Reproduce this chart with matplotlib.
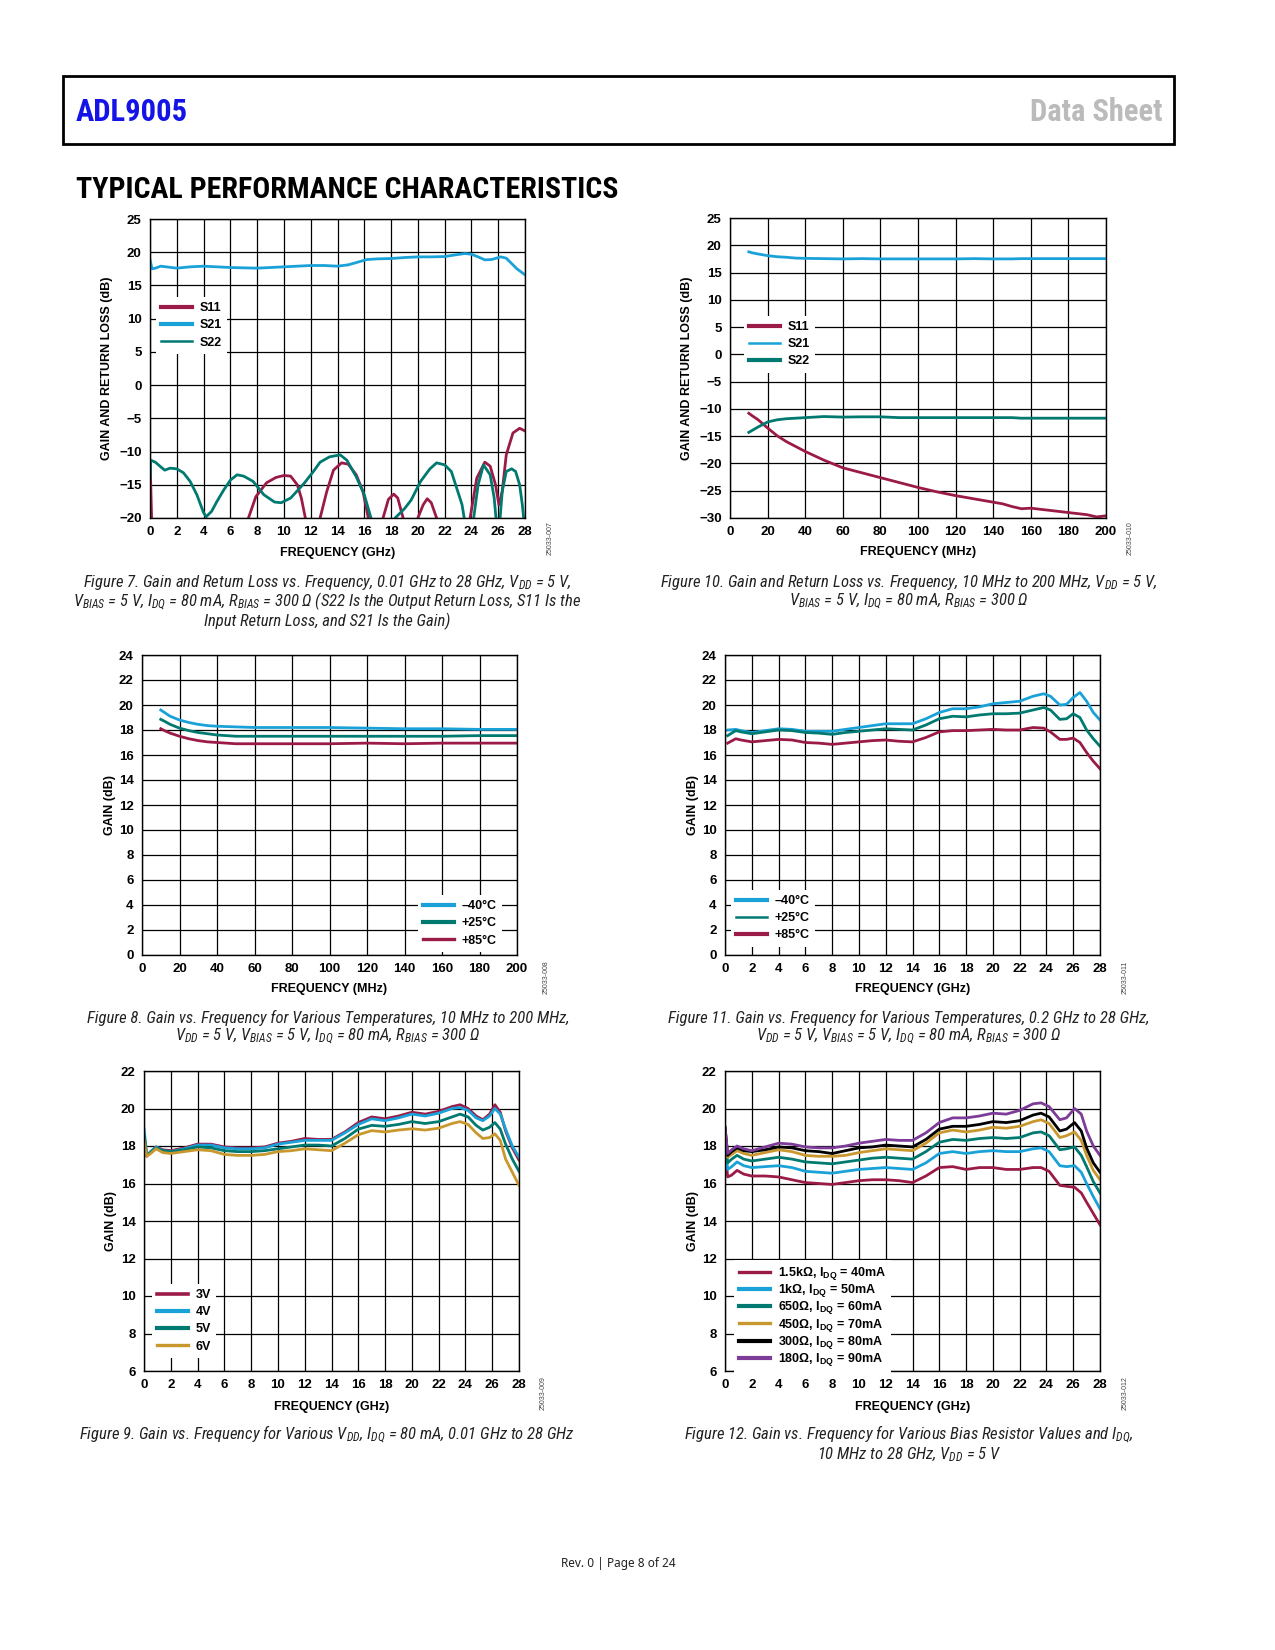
import matplotlib
matplotlib.use('Agg')
import matplotlib.pyplot as plt
from matplotlib.patches import Rectangle
from matplotlib import font_manager as fm

# ---------------- font selection (narrow face if one is installed) ----------------
_names = {f.name for f in fm.fontManager.ttflist}
NARROW = None
for cand in ['Liberation Sans Narrow', 'Roboto Condensed', 'Open Sans Condensed', 'Noto Sans Condensed',
             'DejaVu Sans Condensed', 'Arial Narrow']:
    if cand in _names:
        NARROW = cand
        break
if NARROW is None:
    for n in sorted(_names):
        if ('Narrow' in n or 'Condensed' in n) and 'Mono' not in n:
            NARROW = n
            break
HAVE_NARROW = NARROW is not None
if not HAVE_NARROW:
    NARROW = 'Liberation Sans'

plt.rcParams['font.family'] = ['Liberation Sans', 'DejaVu Sans']
plt.rcParams['mathtext.fontset'] = 'custom'
plt.rcParams['mathtext.it'] = NARROW + ':style=italic:weight=normal'
plt.rcParams['mathtext.rm'] = NARROW + ':style=italic:weight=normal'
plt.rcParams['mathtext.bf'] = 'Liberation Sans:weight=bold'
plt.rcParams['axes.unicode_minus'] = True

CAP_SIZE = 12 if HAVE_NARROW else 9.5
HEAD_SIZE = 22 if HAVE_NARROW else 17.5
TITLE_SIZE = 21.5 if HAVE_NARROW else 18

# ---------------- colours ----------------
MAROON = '#9B1B48'
BLUE = '#1AA2D8'
TEAL = '#007A70'
GOLD = '#C8982E'
PURPLE = '#7D3C98'
BLACK = '#000000'

# ---------------- Figure 7 data ----------------
f7_s21_x = [0.01, 0.15, 0.4, 0.8, 1.2, 2.0, 3.0, 4.0, 5.0, 6.0, 7.0, 8.0, 9.0, 10.0, 11.0, 12.0, 13.0, 14.0,
            14.8, 15.5, 16.2, 17.0, 18.0, 19.0, 20.0, 21.0, 22.0, 22.8, 23.5, 24.0, 24.5, 25.0, 25.5, 26.2,
            26.6, 27.0, 27.4, 28.0]
f7_s21_y = [18.8, 17.5, 17.6, 17.9, 17.8, 17.6, 17.8, 17.9, 17.8, 17.7, 17.65, 17.6, 17.7, 17.8, 17.9, 18.0,
            18.0, 17.9, 18.1, 18.5, 18.9, 19.0, 19.05, 19.2, 19.3, 19.3, 19.35, 19.6, 19.8, 19.7, 19.3, 18.85,
            18.9, 19.3, 19.1, 18.3, 17.5, 16.6]
f7_s22_x = [0.01, 0.05, 0.4, 0.8, 1.1, 1.5, 2.0, 2.5, 3.0, 3.5, 4.0, 4.2, 4.6, 5.0, 5.5, 6.0, 6.5, 7.0, 7.7,
            8.5, 9.3, 9.8, 10.5, 11.5, 12.2, 12.7, 13.4, 14.2, 14.7, 15.4, 16.0, 16.5, 17.0, 17.8, 18.3, 19.0,
            19.5, 20.2, 20.9, 21.4, 22.0, 22.5, 22.9, 23.3, 23.5, 23.8, 24.1, 24.5, 24.9, 25.4, 25.7, 25.9,
            26.1, 26.3, 26.6, 27.0, 27.3, 27.6, 27.8, 27.95]
f7_s22_y = [-14.0, -11.3, -11.6, -12.3, -12.8, -12.5, -12.6, -13.2, -14.5, -16.5, -19.2, -19.8, -19.0, -17.5,
            -15.8, -14.3, -13.5, -13.7, -14.5, -16.5, -17.6, -17.7, -17.0, -14.8, -13.0, -11.6, -10.8, -10.5,
            -11.3, -13.8, -16.5, -20.0, -23.0, -23.0, -20.0, -18.6, -17.3, -14.5, -12.6, -11.7, -12.0, -13.0,
            -15.5, -18.0, -20.5, -23.0, -21.0, -15.0, -12.0, -13.5, -17.0, -21.5, -21.0, -16.0, -13.0, -12.6,
            -13.0, -15.0, -18.0, -21.0]
f7_s11_x = [0.01, 0.12, 0.3, 3.0, 6.5, 7.35, 7.9, 8.7, 9.4, 10.0, 10.5, 11.0, 11.3, 11.6, 12.0, 12.5, 12.7,
            13.2, 13.7, 14.3, 14.8, 15.4, 15.9, 16.3, 16.8, 17.1, 17.4, 17.8, 18.2, 18.5, 18.9, 19.3, 19.7,
            20.0, 20.4, 20.7, 21.0, 21.4, 22.0, 23.0, 23.6, 23.9, 24.4, 25.0, 25.4, 25.8, 26.05, 26.3, 26.6,
            27.1, 27.6, 28.0]
f7_s11_y = [-11.5, -20.0, -26.0, -30.0, -25.0, -20.0, -16.8, -14.7, -13.9, -13.6, -13.7, -15.0, -17.0, -20.0,
            -25.0, -22.0, -20.0, -16.0, -12.8, -11.7, -11.9, -13.5, -16.0, -20.0, -25.0, -24.0, -20.0, -17.2,
            -16.4, -17.0, -20.0, -24.0, -23.0, -20.0, -18.0, -17.1, -17.7, -20.0, -25.0, -26.0, -22.0, -20.0,
            -14.0, -11.6, -12.2, -15.0, -18.0, -16.0, -10.5, -7.2, -6.5, -6.9]

# ---------------- Figure 10 data ----------------
f10_x = [10, 12, 15, 20, 25, 30, 35, 40, 50, 60, 70, 80, 90, 100, 110, 120, 130, 140, 145, 150, 155, 160,
         170, 180, 190, 195, 200]
f10_s21 = [18.8, 18.6, 18.4, 18.1, 17.9, 17.8, 17.65, 17.6, 17.55, 17.5, 17.55, 17.5, 17.5, 17.5, 17.5, 17.5,
           17.55, 17.5, 17.5, 17.5, 17.55, 17.55, 17.55, 17.55, 17.55, 17.55, 17.55]
f10_s22 = [-14.3, -13.9, -13.3, -12.4, -12.0, -11.8, -11.7, -11.6, -11.4, -11.5, -11.45, -11.45, -11.6, -11.6,
           -11.6, -11.6, -11.6, -11.6, -11.6, -11.6, -11.7, -11.7, -11.7, -11.7, -11.7, -11.7, -11.7]
f10_s11 = [-10.8, -11.3, -12.0, -13.5, -14.9, -16.0, -16.9, -17.8, -19.4, -20.8, -21.7, -22.6, -23.5, -24.4,
           -25.2, -25.9, -26.5, -27.1, -27.4, -27.9, -28.3, -28.2, -28.6, -29.0, -29.4, -29.8, -29.6]

# ---------------- Figure 8 data ----------------
f8_x = [10, 12, 15, 20, 25, 30, 35, 40, 50, 60, 80, 100, 120, 140, 160, 180, 200]
f8_m40 = [19.6, 19.4, 19.1, 18.8, 18.6, 18.45, 18.35, 18.3, 18.25, 18.2, 18.2, 18.2, 18.15, 18.1, 18.1, 18.05, 18.05]
f8_p25 = [18.85, 18.7, 18.45, 18.15, 17.95, 17.8, 17.7, 17.6, 17.5, 17.5, 17.5, 17.5, 17.5, 17.5, 17.5, 17.55, 17.55]
f8_p85 = [18.1, 17.95, 17.75, 17.5, 17.3, 17.15, 17.05, 17.0, 16.9, 16.9, 16.9, 16.9, 16.95, 16.9, 16.95, 16.95, 16.95]

# ---------------- Figure 11 data ----------------
f11_x = [0.2, 0.8, 1.2, 2, 3, 4, 5, 6, 7, 8, 9, 10, 11, 12, 13, 14, 15, 16, 17, 18, 19, 20, 21, 22, 23, 23.8,
         24.3, 25, 25.5, 26, 26.5, 27, 27.5, 28]
f11_m40 = [18.0, 18.05, 17.95, 17.8, 17.95, 18.1, 18.05, 17.9, 17.9, 17.9, 18.05, 18.2, 18.35, 18.5, 18.5, 18.5,
           18.9, 19.4, 19.7, 19.7, 19.85, 20.1, 20.2, 20.3, 20.7, 20.9, 20.7, 20.0, 20.05, 20.6, 21.0, 20.3, 19.4, 18.8]
f11_p25 = [17.55, 17.95, 17.85, 17.7, 17.85, 18.0, 17.95, 17.8, 17.75, 17.65, 17.8, 17.9, 18.0, 18.1, 18.05, 18.0,
           18.4, 18.9, 19.1, 19.05, 19.2, 19.3, 19.3, 19.35, 19.6, 19.8, 19.6, 18.85, 18.9, 19.3, 19.0, 18.0, 17.3, 16.7]
f11_p85 = [16.95, 17.3, 17.2, 17.05, 17.15, 17.25, 17.2, 17.0, 16.95, 16.85, 16.95, 17.05, 17.15, 17.2, 17.1, 17.05,
           17.4, 17.85, 17.95, 17.95, 18.0, 18.05, 18.0, 18.0, 18.2, 18.15, 17.85, 17.25, 17.25, 17.35, 17.0, 16.2,
           15.5, 14.9]

# ---------------- Figure 9 data ----------------
f9_x = [0.01, 0.2, 0.5, 0.9, 1.4, 2, 3, 4, 5, 6, 7, 8, 9, 10, 11, 12, 13, 14, 15, 16, 17, 18, 19, 20, 21, 22,
        23, 23.6, 24.2, 24.8, 25.3, 25.8, 26.2, 26.6, 27, 27.5, 28]
f9_3v = [18.5, 17.45, 17.7, 17.95, 17.8, 17.75, 17.9, 18.1, 18.1, 17.95, 17.9, 17.9, 17.95, 18.15, 18.25, 18.4,
         18.35, 18.35, 18.75, 19.25, 19.55, 19.45, 19.6, 19.8, 19.7, 19.85, 20.1, 20.2, 20.0, 19.6, 19.4, 19.7,
         20.2, 19.8, 18.8, 17.9, 17.25]
f9_4v = [18.9, 17.5, 17.7, 17.95, 17.75, 17.7, 17.85, 18.05, 18.05, 17.9, 17.85, 17.85, 17.9, 18.1, 18.2, 18.3,
         18.3, 18.3, 18.7, 19.15, 19.45, 19.35, 19.5, 19.7, 19.6, 19.75, 20.0, 20.05, 19.9, 19.5, 19.35, 19.6,
         20.0, 19.7, 18.9, 18.0, 17.4]
f9_5v = [18.6, 17.5, 17.65, 17.9, 17.75, 17.7, 17.8, 17.95, 17.9, 17.75, 17.7, 17.7, 17.75, 17.85, 17.95, 18.05,
         18.05, 18.0, 18.4, 18.9, 19.1, 19.05, 19.15, 19.3, 19.2, 19.3, 19.55, 19.7, 19.55, 19.1, 18.85, 19.0,
         19.25, 18.9, 18.1, 17.3, 16.65]
f9_6v = [18.3, 17.45, 17.6, 17.85, 17.65, 17.6, 17.7, 17.8, 17.75, 17.55, 17.5, 17.5, 17.55, 17.7, 17.75, 17.85,
         17.8, 17.75, 18.15, 18.6, 18.82, 18.75, 18.85, 18.92, 18.85, 18.95, 19.2, 19.3, 19.15, 18.7, 18.4, 18.45,
         18.65, 18.3, 17.3, 16.6, 15.9]

# ---------------- Figure 12 data ----------------
f12_x = [0.01, 0.2, 0.5, 0.9, 1.4, 2, 3, 4, 5, 6, 7, 8, 9, 10, 11, 12, 13, 14, 15, 16, 17, 18, 19, 20, 21, 22,
         23, 23.6, 24.2, 25, 25.5, 26.1, 26.6, 27, 27.5, 28]
f12_180 = [18.9, 17.6, 17.8, 18.0, 17.85, 17.75, 17.95, 18.15, 18.1, 17.95, 17.9, 17.9, 18.0, 18.15, 18.25, 18.35,
           18.3, 18.3, 18.7, 19.25, 19.5, 19.5, 19.6, 19.75, 19.7, 19.9, 20.25, 20.3, 20.1, 19.4, 19.5, 20.0, 19.7,
           18.8, 18.0, 17.5]
f12_300 = [19.0, 17.5, 17.7, 17.9, 17.75, 17.7, 17.8, 17.95, 17.9, 17.75, 17.7, 17.6, 17.75, 17.9, 17.95, 18.05,
           18.0, 17.95, 18.35, 18.9, 19.05, 19.05, 19.15, 19.3, 19.25, 19.35, 19.65, 19.75, 19.55, 18.8, 18.9, 19.25,
           18.8, 17.9, 17.1, 16.6]
f12_450 = [18.8, 17.4, 17.55, 17.75, 17.6, 17.5, 17.65, 17.8, 17.7, 17.5, 17.45, 17.45, 17.5, 17.65, 17.75, 17.85,
           17.8, 17.75, 18.15, 18.7, 18.85, 18.75, 18.85, 19.0, 18.95, 19.05, 19.3, 19.4, 19.2, 18.45, 18.55, 18.75,
           18.3, 17.5, 16.7, 16.2]
f12_650 = [18.5, 17.1, 17.3, 17.5, 17.3, 17.2, 17.3, 17.4, 17.3, 17.15, 17.1, 17.05, 17.15, 17.25, 17.35, 17.4,
           17.35, 17.3, 17.7, 18.2, 18.35, 18.3, 18.4, 18.45, 18.4, 18.45, 18.7, 18.75, 18.55, 17.8, 17.85, 17.95,
           17.5, 16.9, 16.1, 15.5]
f12_1k = [18.2, 16.75, 16.9, 17.15, 16.95, 16.85, 16.9, 16.95, 16.85, 16.65, 16.6, 16.55, 16.65, 16.75, 16.8, 16.85,
          16.8, 16.75, 17.1, 17.6, 17.7, 17.6, 17.7, 17.75, 17.7, 17.7, 17.85, 17.9, 17.7, 16.95, 16.9, 16.95, 16.6,
          16.0, 15.3, 14.65]
f12_1k5 = [17.8, 16.35, 16.45, 16.7, 16.5, 16.4, 16.4, 16.35, 16.2, 16.05, 16.0, 15.95, 16.05, 16.15, 16.2, 16.2,
           16.15, 16.05, 16.4, 16.85, 16.9, 16.75, 16.85, 16.85, 16.75, 16.75, 16.85, 16.85, 16.65, 15.9, 15.85, 15.8,
           15.5, 15.0, 14.4, 13.8]

# ---------------- tick labels ----------------
ghz_ticks = list(range(0, 29, 2))
mhz_ticks = list(range(0, 201, 20))

W, H = 1275, 1650
fig = plt.figure(figsize=(W / 100, H / 100), dpi=100)

LW = 2.0
THICK, THIN = 3.0, 1.8


def make_ax(l, t, r, b):
    return fig.add_axes([l / W, 1 - b / H, (r - l) / W, (b - t) / H])


def style(ax, xlim, xticks, ylim, yticks, xlabel, ylabel, ylab_px, xlab_px):
    ax.set_xlim(*xlim)
    ax.set_ylim(*ylim)
    ax.set_xticks(xticks)
    ax.set_yticks(yticks)
    for lbl in ax.get_xticklabels() + ax.get_yticklabels():
        lbl.set_fontweight('bold')
    ax.set_axisbelow(True)
    ax.grid(True, color='black', lw=0.9)
    ax.tick_params(length=0, pad=6, labelsize=9.5)
    for s in ax.spines.values():
        s.set_color('black')
        s.set_linewidth(1.0)
    ax.set_xlabel(xlabel, fontsize=9, fontweight='bold', va='center')
    ax.set_ylabel(ylabel, fontsize=9, fontweight='bold', va='center')
    bb = ax.get_position()
    axw = bb.width * W
    axh = bb.height * H
    ax.yaxis.set_label_coords(ylab_px / axw, 0.5)
    ax.xaxis.set_label_coords(0.5, xlab_px / axh)


def legend(ax, handles, left_px, top_px, widths, spacing=0.42):
    leg = ax.legend(handles=handles, loc='upper left',
                    bbox_to_anchor=(left_px / W, 1 - top_px / H), bbox_transform=fig.transFigure,
                    frameon=True, fancybox=False, framealpha=1, facecolor='white', edgecolor='none',
                    borderpad=0.4, borderaxespad=0, handlelength=2.5, handletextpad=0.6,
                    labelspacing=spacing, prop={'size': 9, 'weight': 'bold'})
    for ln, w in zip(leg.get_lines(), widths):
        ln.set_linewidth(w)
    return leg


# ---------------- Figure 7 ----------------
ax1 = make_ax(150, 219, 525, 518)
h11, = ax1.plot(f7_s11_x, f7_s11_y, color=MAROON, lw=LW, label='S11')
h21, = ax1.plot(f7_s21_x, f7_s21_y, color=BLUE, lw=LW, label='S21')
h22, = ax1.plot(f7_s22_x, f7_s22_y, color=TEAL, lw=LW, label='S22')
style(ax1, (0, 28), ghz_ticks, (-20, 25), list(range(-20, 26, 5)),
      'FREQUENCY (GHz)', 'GAIN AND RETURN LOSS (dB)', -43, -35)
legend(ax1, [h11, h21, h22], 156, 297, [THICK, THICK, THIN])

# ---------------- Figure 10 ----------------
ax2 = make_ax(730, 218, 1106, 518)
g11, = ax2.plot(f10_x, f10_s11, color=MAROON, lw=LW, label='S11')
g21, = ax2.plot(f10_x, f10_s21, color=BLUE, lw=LW, label='S21')
g22, = ax2.plot(f10_x, f10_s22, color=TEAL, lw=LW, label='S22')
style(ax2, (0, 200), mhz_ticks, (-30, 25), list(range(-30, 26, 5)),
      'FREQUENCY (MHz)', 'GAIN AND RETURN LOSS (dB)', -43, -34)
legend(ax2, [g11, g21, g22], 744, 316, [THICK, THIN, THICK])

# ---------------- Figure 8 ----------------
ax3 = make_ax(142, 655, 517, 955)
t1, = ax3.plot(f8_x, f8_m40, color=BLUE, lw=LW, label='–40°C')
t2, = ax3.plot(f8_x, f8_p25, color=TEAL, lw=LW, label='+25°C')
t3, = ax3.plot(f8_x, f8_p85, color=MAROON, lw=LW, label='+85°C')
style(ax3, (0, 200), mhz_ticks, (0, 24), list(range(0, 25, 2)),
      'FREQUENCY (MHz)', 'GAIN (dB)', -32, -34)
legend(ax3, [t1, t2, t3], 418, 895, [THICK, THICK, 2.4])

# ---------------- Figure 11 ----------------
ax4 = make_ax(725, 655, 1100, 955)
u1, = ax4.plot(f11_x, f11_m40, color=BLUE, lw=LW, label='–40°C')
u2, = ax4.plot(f11_x, f11_p25, color=TEAL, lw=LW, label='+25°C')
u3, = ax4.plot(f11_x, f11_p85, color=MAROON, lw=LW, label='+85°C')
style(ax4, (0, 28), ghz_ticks, (0, 24), list(range(0, 25, 2)),
      'FREQUENCY (GHz)', 'GAIN (dB)', -32, -34)
legend(ax4, [u1, u2, u3], 731, 890, [THICK, THIN, THICK])

# ---------------- Figure 9 ----------------
ax5 = make_ax(144, 1071, 519, 1371)
v1, = ax5.plot(f9_x, f9_3v, color=MAROON, lw=LW, label='3V')
v2, = ax5.plot(f9_x, f9_4v, color=BLUE, lw=LW, label='4V')
v3, = ax5.plot(f9_x, f9_5v, color=TEAL, lw=LW, label='5V')
v4, = ax5.plot(f9_x, f9_6v, color=GOLD, lw=LW, label='6V')
style(ax5, (0, 28), ghz_ticks, (6, 22), list(range(6, 23, 2)),
      'FREQUENCY (GHz)', 'GAIN (dB)', -33, -36)
legend(ax5, [v1, v2, v3, v4], 152, 1284, [2.6, THICK, THICK, 2.4])

# ---------------- Figure 12 ----------------
ax6 = make_ax(725, 1071, 1100, 1371)
w1, = ax6.plot(f12_x, f12_1k5, color=MAROON, lw=LW, label='1.5kΩ, I$_{\\mathbf{DQ}}$ = 40mA')
w2, = ax6.plot(f12_x, f12_1k, color=BLUE, lw=LW, label='1kΩ, I$_{\\mathbf{DQ}}$ = 50mA')
w3, = ax6.plot(f12_x, f12_650, color=TEAL, lw=LW, label='650Ω, I$_{\\mathbf{DQ}}$ = 60mA')
w4, = ax6.plot(f12_x, f12_450, color=GOLD, lw=LW, label='450Ω, I$_{\\mathbf{DQ}}$ = 70mA')
w5, = ax6.plot(f12_x, f12_300, color=BLACK, lw=LW, label='300Ω, I$_{\\mathbf{DQ}}$ = 80mA')
w6, = ax6.plot(f12_x, f12_180, color=PURPLE, lw=LW, label='180Ω, I$_{\\mathbf{DQ}}$ = 90mA')
style(ax6, (0, 28), ghz_ticks, (6, 22), list(range(6, 23, 2)),
      'FREQUENCY (GHz)', 'GAIN (dB)', -32, -36)
legend(ax6, [w1, w2, w3, w4, w5, w6], 734, 1260, [2.4, THICK, THICK, 2.4, THICK, THICK], spacing=0.02)

# ---------------- figure ids ----------------
for txt, x, y in [('25033-007', 550, 538), ('25033-010', 1130, 538), ('25033-008', 546, 977),
                  ('25033-011', 1125, 977), ('25033-009', 543, 1393), ('25033-012', 1125, 1393)]:
    fig.text(x / W, 1 - y / H, txt, rotation=90, fontsize=5, color='#444444', fontweight='normal',
             ha='center', va='center')

# ---------------- header ----------------
fig.patches.append(Rectangle((63 / W, 1 - 144 / H), (1174 - 63) / W, (144 - 76) / H,
                             transform=fig.transFigure, fill=False, lw=2.0, ec='black'))
fig.text(76 / W, 1 - 112 / H, 'ADL9005', family=[NARROW, 'DejaVu Sans'], fontsize=HEAD_SIZE,
         fontweight='bold', color='#1414E6', ha='left', va='center')
fig.text(1162 / W, 1 - 112 / H, 'Data Sheet', family=[NARROW, 'DejaVu Sans'], fontsize=HEAD_SIZE,
         fontweight='bold', color='#BBBBBB', ha='right', va='center')
fig.text(76 / W, 1 - 190 / H, 'TYPICAL PERFORMANCE CHARACTERISTICS', family=[NARROW, 'DejaVu Sans'],
         fontsize=TITLE_SIZE, fontweight='bold', color='black', ha='left', va='center')

# ---------------- captions ----------------
CAP = dict(family=[NARROW, 'DejaVu Sans'], fontsize=CAP_SIZE, fontweight='normal', style='italic',
           ha='center', va='center', color='#222222')
captions = [
    (327, 582, 'Figure 7. Gain and Return Loss vs. Frequency, 0.01 GHz to 28 GHz, V$_{DD}$ = 5 V,'),
    (327, 602, 'V$_{BIAS}$ = 5 V, I$_{DQ}$ = 80 mA, R$_{BIAS}$ = 300 Ω (S22 Is the Output Return Loss, S11 Is the'),
    (327, 621, 'Input Return Loss, and S21 Is the Gain)'),
    (909, 582, 'Figure 10. Gain and Return Loss vs. Frequency, 10 MHz to 200 MHz, V$_{DD}$ = 5 V,'),
    (909, 602, 'V$_{BIAS}$ = 5 V, I$_{DQ}$ = 80 mA, R$_{BIAS}$ = 300 Ω'),
    (328, 1018, 'Figure 8. Gain vs. Frequency for Various Temperatures, 10 MHz to 200 MHz,'),
    (328, 1037, 'V$_{DD}$ = 5 V, V$_{BIAS}$ = 5 V, I$_{DQ}$ = 80 mA, R$_{BIAS}$ = 300 Ω'),
    (909, 1018, 'Figure 11. Gain vs. Frequency for Various Temperatures, 0.2 GHz to 28 GHz,'),
    (909, 1037, 'V$_{DD}$ = 5 V, V$_{BIAS}$ = 5 V, I$_{DQ}$ = 80 mA, R$_{BIAS}$ = 300 Ω'),
    (327, 1435, 'Figure 9. Gain vs. Frequency for Various V$_{DD}$, I$_{DQ}$ = 80 mA, 0.01 GHz to 28 GHz'),
    (909, 1435, 'Figure 12. Gain vs. Frequency for Various Bias Resistor Values and I$_{DQ}$,'),
    (909, 1455, '10 MHz to 28 GHz, V$_{DD}$ = 5 V'),
]
for x, y, t in captions:
    fig.text(x / W, 1 - y / H, t, **CAP)

fig.text(618 / W, 1 - 1563 / H, 'Rev. 0 | Page 8 of 24', family=['Noto Sans', 'DejaVu Sans'], fontsize=8.5,
         fontweight='normal', color='#222222', ha='center', va='center')

fig.savefig('out.png', dpi=100)
